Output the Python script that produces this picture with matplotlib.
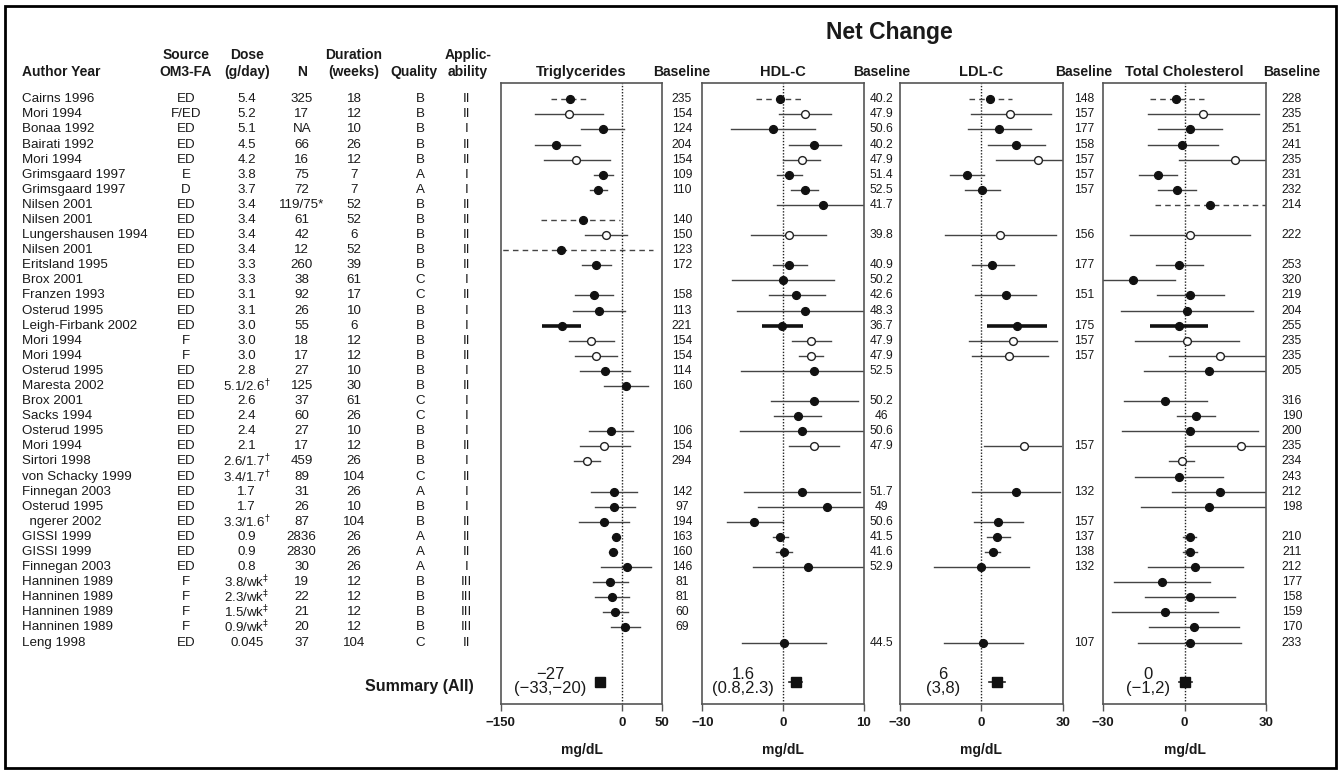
import matplotlib
matplotlib.use('Agg')
import matplotlib.pyplot as plt
from matplotlib.patches import Rectangle

plt.rcParams['font.family'] = ['Liberation Sans', 'DejaVu Sans']

W, H = 1342, 771
TXT = '#1a1a1a'

# study table
authors = ['Cairns 1996', 'Mori 1994', 'Bonaa 1992', 'Bairati 1992', 'Mori 1994',
           'Grimsgaard 1997', 'Grimsgaard 1997', 'Nilsen 2001', 'Nilsen 2001',
           'Lungershausen 1994', 'Nilsen 2001', 'Eritsland 1995', 'Brox 2001',
           'Franzen 1993', 'Osterud 1995', 'Leigh-Firbank 2002', 'Mori 1994', 'Mori 1994',
           'Osterud 1995', 'Maresta 2002', 'Brox 2001', 'Sacks 1994', 'Osterud 1995',
           'Mori 1994', 'Sirtori 1998', 'von Schacky 1999', 'Finnegan 2003', 'Osterud 1995',
           '  ngerer 2002', 'GISSI 1999', 'GISSI 1999', 'Finnegan 2003', 'Hanninen 1989',
           'Hanninen 1989', 'Hanninen 1989', 'Hanninen 1989', 'Leng 1998']
source = ['ED', 'F/ED', 'ED', 'ED', 'ED', 'E', 'D', 'ED', 'ED', 'ED', 'ED', 'ED', 'ED',
          'ED', 'ED', 'ED', 'F', 'F', 'ED', 'ED', 'ED', 'ED', 'ED', 'ED', 'ED', 'ED', 'ED',
          'ED', 'ED', 'ED', 'ED', 'ED', 'F', 'F', 'F', 'F', 'ED']
dose = ['5.4', '5.2', '5.1', '4.5', '4.2', '3.8', '3.7', '3.4', '3.4', '3.4', '3.4', '3.3',
        '3.3', '3.1', '3.1', '3.0', '3.0', '3.0', '2.8', r'5.1/2.6$^{\dagger}$', '2.6', '2.4',
        '2.4', '2.1', r'2.6/1.7$^{\dagger}$', r'3.4/1.7$^{\dagger}$', '1.7', '1.7',
        r'3.3/1.6$^{\dagger}$', '0.9', '0.9', '0.8', r'3.8/wk$^{\ddagger}$',
        r'2.3/wk$^{\ddagger}$', r'1.5/wk$^{\ddagger}$', r'0.9/wk$^{\ddagger}$', '0.045']
n_subj = ['325', '17', 'NA', '66', '16', '75', '72', '119/75*', '61', '42', '12', '260',
          '38', '92', '26', '55', '18', '17', '27', '125', '37', '60', '27', '17', '459',
          '89', '31', '26', '87', '2836', '2830', '30', '19', '22', '21', '20', '37']
duration = ['18', '12', '10', '26', '12', '7', '7', '52', '52', '6', '52', '39', '61', '17',
            '10', '6', '12', '12', '10', '30', '61', '26', '10', '12', '26', '104', '26',
            '10', '104', '26', '26', '26', '12', '12', '12', '12', '104']
quality = ['B', 'B', 'B', 'B', 'B', 'A', 'A', 'B', 'B', 'B', 'B', 'B', 'C', 'C', 'B', 'B',
           'B', 'B', 'B', 'B', 'C', 'C', 'B', 'B', 'B', 'C', 'A', 'B', 'B', 'A', 'A', 'A',
           'B', 'B', 'B', 'B', 'C']
applic = ['II', 'II', 'I', 'II', 'II', 'I', 'I', 'II', 'II', 'II', 'II', 'II', 'I', 'II',
          'I', 'I', 'II', 'II', 'I', 'II', 'I', 'I', 'I', 'II', 'I', 'II', 'I', 'I', 'II',
          'II', 'II', 'I', 'III', 'III', 'III', 'III', 'II']

hollow = [False, True, False, False, True, False, False, False, False, True, False, False,
          False, False, False, False, True, True, False, False, False, False, False, True,
          True, False, False, False, False, False, False, False, False, False, False, False,
          False]
row_style = ['dash', 'solid', 'solid', 'solid', 'solid', 'solid', 'solid', 'dash', 'dash',
             'solid', 'dash', 'solid', 'solid', 'solid', 'solid', 'thick'] + ['solid'] * 21

N = None
# triglycerides
tg_est = [-64.5, -66, -23, -81, -57, -23, -30, N, -48, -20, -75, -32.5, N, -34.5, -28, -74.4,
          -38.6, -32.5, -21.4, 5.3, N, N, -14, -21.8, -43.6, N, -10.3, -9.5, -22, -7, -11,
          5.8, -14.4, -12.3, -8.6, 4, N]
tg_lo = [-88, -107, -50, -107, -97, -34.5, -39, N, -100.7, -46, -160, -49, N, -57.5, -60,
         -98.6, -66, -58, -52, -21.8, N, N, -41, -52, -59.6, N, -38.6, -33, -53, -12.7,
         -16.4, -25.5, -36, -33, -24, -13, N]
tg_hi = [-41.5, -24, 3, -52, -15, -11, -18.5, N, -2, 6, 38, -14, N, -11, 3.7, -51, -10,
         -5.8, 10, 32, N, N, 13.5, 9.5, -27.5, N, 19, 16, 8.6, -2.5, -5.8, 36, 7.4, 8.2,
         7.4, 21.8, N]
tg_base = ['235', '154', '124', '204', '154', '109', '110', '', '140', '150', '123', '172', '',
           '158', '113', '221', '154', '154', '114', '160', '', '', '106', '154', '294', '',
           '142', '97', '194', '163', '160', '146', '81', '81', '60', '69', '']
tg_sum = (-27, -32.5, -20.5, '\u221227\n(\u221233,\u221220)')

# HDL-C
hdl_est = [-0.4, 2.7, -1.2, 3.9, 2.3, 0.8, 2.7, 4.9, N, 0.7, N, 0.8, 0, 1.65, 2.7, -0.1, 3.5,
           3.5, 3.9, N, 3.9, 1.8, 2.3, 3.8, N, N, 2.4, 5.4, -3.6, -0.4, 0.1, 3.1, N, N, N, N,
           0.1]
hdl_lo = [-3.3, -0.5, -6.4, 0.7, 0, -0.7, 1.0, -0.7, N, -4.0, N, -1.3, -6.3, -1.7, -5.7,
          -2.6, 1.1, 2.0, -5.2, N, -1.5, -1.1, -5.3, 0.7, N, N, -4.8, -3.1, -7.0, -1.3, -0.9,
          -3.7, N, N, N, N, -5.1]
hdl_hi = [2.4, 6.0, 4.0, 7.2, 4.6, 2.3, 4.3, 10.5, N, 5.3, N, 3.0, 6.3, 5.2, 10.5, 2.5, 6.0,
          5.0, 10.5, N, 9.3, 4.7, 10.5, 6.9, N, N, 9.6, 10.5, 0, 0.6, 1.1, 10.5, N, N, N, N,
          5.3]
hdl_base = ['40.2', '47.9', '50.6', '40.2', '47.9', '51.4', '52.5', '41.7', '', '39.8', '',
            '40.9', '50.2', '42.6', '48.3', '36.7', '47.9', '47.9', '52.5', '', '50.2', '46',
            '50.6', '47.9', '', '', '51.7', '49', '50.6', '41.5', '41.6', '52.9', '', '', '',
            '', '44.5']
hdl_sum = (1.6, 0.8, 2.3, '1.6\n(0.8,2.3)')

# LDL-C
ldl_est = [3.1, 10.6, 6.6, 12.9, 21, -5.3, 0.5, N, N, 7.0, N, 4.0, N, 9.2, N, 13.2, 11.6,
           10.4, N, N, N, N, N, 15.9, N, N, 12.9, N, 6.2, 6.0, 4.2, 0.1, N, N, N, N, 0.7]
ldl_lo = [-4.4, -3.8, -5.0, 2.7, 5.5, -11.4, -5.8, N, N, -13.1, N, -3.4, N, -2.2, N, 2.2,
          -4.4, -3.4, N, N, N, N, N, 1.1, N, N, -3.2, N, -2.6, 2.0, 1.5, -17.3, N, N, N, N,
          -13.5]
ldl_hi = [11.3, 25.8, 18.4, 23.5, 31, 1.1, 7.0, N, N, 27.4, N, 12.2, N, 20.1, N, 24.4, 27.8,
          24.7, N, N, N, N, N, 29.3, N, N, 29, N, 15.5, 10.6, 7.0, 17.6, N, N, N, N, 15.3]
ldl_base = ['148', '157', '177', '158', '157', '157', '157', '', '', '156', '', '177', '',
            '151', '', '175', '157', '157', '', '', '', '', '', '157', '', '', '132', '',
            '157', '137', '138', '132', '', '', '', '', '107']
ldl_sum = (5.75, 3, 8.8, '6\n(3,8)')

# total cholesterol
tc_est = [-3.1, 6.9, 2.0, -0.9, 18.6, -9.9, -2.9, 9.5, N, 2.1, N, -2.0, -19.1, 2.0, 1.1, -2.0,
          1.1, 13.1, 9.0, N, -7.1, 4.1, 1.9, 20.9, -1.0, -2.1, 13.0, 8.9, N, 1.9, 1.9, 3.8,
          -8.2, 2.0, -7.2, 3.5, 2.0]
tc_lo = [-12.8, -13.4, -9.7, -13.6, -2.1, -16.7, -9.7, -10.8, N, -20.2, N, -10.5, -31, -10.2,
         -23.4, -12.6, -18.2, -5.6, -14.9, N, -22.3, -2.9, -23.2, 0.2, -5.6, -18.2, -4.7, -16,
         N, -0.4, -0.7, -13.6, -25.9, -14.6, -26.8, -13.3, -17]
tc_hi = [7.1, 27.6, 14, 12.4, 31, -2.6, 4.3, 31, N, 24.2, N, 6.8, -3.5, 14.7, 25.4, 8.8, 20.3,
         31, 31, N, 8.3, 11.3, 27.1, 31, 3.6, 14.3, 31, 31, N, 4.3, 4.6, 21.7, 9.5, 18.6,
         12.3, 20.2, 20.7]
tc_base = ['228', '235', '251', '241', '235', '231', '232', '214', '', '222', '', '253', '320',
           '219', '204', '255', '235', '235', '205', '', '316', '190', '200', '235', '234',
           '243', '212', '198', '', '210', '211', '212', '177', '158', '159', '170', '233']
tc_sum = (0.2, -1.9, 2.7, '0\n(\u22121,2)')

hdl_style = list(row_style)
hdl_style[7] = 'solid'


def row_at(y):
    # pixel row -> study row index
    return 1 + (y - 99.3) / 15.09


def px_rect(x0, x1, y0, y1):
    return [x0 / W, 1 - y1 / H, (x1 - x0) / W, (y1 - y0) / H]


fig = plt.figure(figsize=(W / 100, H / 100), dpi=100)
fig.patches.append(Rectangle((5 / W, 1 - 768 / H), 1331 / W, 762 / H, transform=fig.transFigure,
                             fill=False, lw=2.0, ec='black'))

bg = fig.add_axes([0, 0, 1, 1], zorder=0)
bg.set_xlim(0, W)
bg.set_ylim(row_at(H), row_at(0))
bg.axis('off')

rows = range(1, len(authors) + 1)
cols = [(186, source), (246.7, dose), (301.7, n_subj), (354, duration), (420, quality),
        (466.7, applic)]
for r, name in zip(rows, authors):
    bg.text(21.7, r, name, fontsize=9.6, va='center', ha='left', color=TXT)
for x, vals in cols:
    for r, v in zip(rows, vals):
        bg.text(x, r, v, fontsize=9.6, va='center', ha='center', color=TXT)

head = dict(fontsize=10, fontweight='bold', va='center', color=TXT)
bg.text(21.7, row_at(72), 'Author Year', ha='left', **head)
for x, l1, l2 in [(186, 'Source', 'OM3-FA'), (246.7, 'Dose', '(g/day)'),
                  (354, 'Duration', '(weeks)'), (468, 'Applic-', 'ability')]:
    bg.text(x, row_at(55), l1, ha='center', **head)
    bg.text(x, row_at(72), l2, ha='center', **head)
bg.text(301.7, row_at(72), 'N', ha='center', **head)
bg.text(414, row_at(72), 'Quality', ha='center', **head)
bg.text(889, row_at(33), 'Net Change', ha='center', va='center', fontsize=16.5,
        fontweight='bold', color=TXT)
bg.text(474, row_at(686.7), 'Summary (All)', ha='right', va='center', fontsize=11.5,
        fontweight='bold', color=TXT)

panels = [
    ('Triglycerides', tg_est, tg_lo, tg_hi, tg_base, tg_sum, row_style, (-150, 50),
     [-150, 0, 50], 500.7, 662.3, 682, -89),
    ('HDL-C', hdl_est, hdl_lo, hdl_hi, hdl_base, hdl_sum, hdl_style, (-10, 10),
     [-10, 0, 10], 702.3, 863.7, 881.5, -4.95),
    ('LDL-C', ldl_est, ldl_lo, ldl_hi, ldl_base, ldl_sum, row_style, (-30, 30),
     [-30, 0, 30], 899.5, 1062.7, 1084, -14),
    ('Total Cholesterol', tc_est, tc_lo, tc_hi, tc_base, tc_sum, row_style, (-30, 30),
     [-30, 0, 30], 1103.3, 1265.7, 1292, -13.5),
]

sum_row = row_at(681.7)
for title, est, lo, hi, base, summ, style, xlim, ticks, x0, x1, bx, sx in panels:
    ax = fig.add_axes(px_rect(x0, x1, 82.5, 704.3), zorder=1)
    ax.set_facecolor('none')
    ax.set_xlim(*xlim)
    ax.set_ylim(row_at(704.3), row_at(82.5))
    ax.axvline(0, color='#222', ls=(0, (1, 1.2)), lw=1.0, zorder=1)
    for r, e, a, b, st, hol in zip(rows, est, lo, hi, style, hollow):
        if e is None:
            continue
        if st == 'thick':
            ax.plot([a, b], [r, r], color='#111', lw=2.6, solid_capstyle='butt', zorder=2)
        elif st == 'dash':
            ax.plot([a, b], [r, r], color='#444', lw=1.0, ls=(0, (4, 3)), zorder=2)
        else:
            ax.plot([a, b], [r, r], color='#444', lw=1.0, zorder=2)
        if hol:
            ax.plot(e, r, 'o', ms=5.6, mfc='white', mec='#222', mew=1.0, zorder=3)
        else:
            ax.plot(e, r, 'o', ms=5.6, color='#111', zorder=3)
    se, slo, shi, slabel = summ
    ax.plot([slo, shi], [sum_row, sum_row], color='#222', lw=1.2, zorder=2)
    ax.plot(se, sum_row, 's', ms=6.5, color='#111', zorder=3)
    ax.text(sx, sum_row, slabel, ha='center', va='center', fontsize=12, linespacing=0.95,
            color=TXT)

    for sp in ax.spines.values():
        sp.set_color('#555')
        sp.set_linewidth(1.2)
    ax.set_yticks([])
    ax.set_xticks(ticks)
    ax.set_xticklabels([f'{t:d}'.replace('-', '\u2212') for t in ticks], fontweight='bold',
                       fontsize=9.5, color=TXT)
    ax.tick_params(axis='x', direction='out', length=5, width=1, color='#555', pad=4)
    ax.set_xlabel('mg/dL', fontsize=10, fontweight='bold', labelpad=10, color=TXT)

    bg.text((x0 + x1) / 2, row_at(72), title, ha='center', va='center', fontsize=10.5,
            fontweight='bold', color=TXT)
    bg.text(bx, row_at(72), 'Baseline', ha='center', va='center', fontsize=10,
            fontweight='bold', color=TXT)
    for r, b in zip(rows, base):
        if b:
            bg.text(bx, r, b, ha='center', va='center', fontsize=8.7, color=TXT)

fig.savefig('out.png', dpi=100)
